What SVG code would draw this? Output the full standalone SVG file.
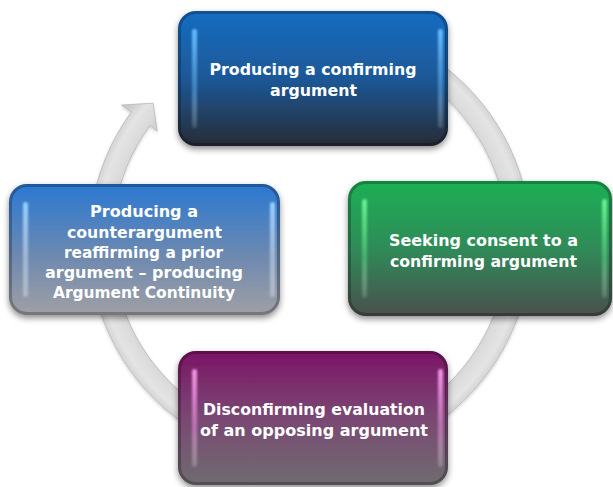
<svg xmlns="http://www.w3.org/2000/svg" width="613" height="487" viewBox="0 0 613 487">
  <defs>
    <style>
      .label { font-family: "DejaVu Sans", "Liberation Sans", sans-serif; font-weight: bold; font-size: 16px; fill: #ffffff; }
      .rim { fill: none; stroke: #000000; stroke-opacity: 0.25; stroke-width: 3; }
      .ring { fill: url(#ring-fill); stroke: #b8b8b8; stroke-width: 0.8; }
    </style>

    <!-- soft shadow under the blocks -->
    <filter id="shadow" x="-10%" y="-10%" width="120%" height="130%">
      <feDropShadow dx="0" dy="3" stdDeviation="3" flood-color="#000" flood-opacity="0.45"/>
    </filter>
    <filter id="ring-shadow" x="-10%" y="-10%" width="120%" height="120%">
      <feDropShadow dx="0" dy="1.5" stdDeviation="1.5" flood-color="#000" flood-opacity="0.18"/>
    </filter>
    <filter id="soft" x="-50%" y="-10%" width="200%" height="120%">
      <feGaussianBlur stdDeviation="0.8"/>
    </filter>

    <!-- ring body shading across its width -->
    <radialGradient id="ring-fill" gradientUnits="userSpaceOnUse" cx="310" cy="242" r="235">
      <stop offset="0.80" stop-color="#c9c9c9"/>
      <stop offset="0.86" stop-color="#dcdcdc"/>
      <stop offset="0.91" stop-color="#e4e4e4"/>
      <stop offset="0.95" stop-color="#cfcfcf"/>
      <stop offset="1" stop-color="#c4c4c4"/>
    </radialGradient>

    <!-- block body gradients -->
    <linearGradient id="g-blue" x1="0" y1="0" x2="0" y2="1">
      <stop offset="0" stop-color="#176dc2"/>
      <stop offset="0.5" stop-color="#1c5897"/>
      <stop offset="1" stop-color="#272b35"/>
    </linearGradient>
    <linearGradient id="g-green" x1="0" y1="0" x2="0" y2="1">
      <stop offset="0" stop-color="#1cb055"/>
      <stop offset="0.5" stop-color="#2f8b58"/>
      <stop offset="1" stop-color="#4a4f4e"/>
    </linearGradient>
    <linearGradient id="g-purple" x1="0" y1="0" x2="0" y2="1">
      <stop offset="0" stop-color="#7b1466"/>
      <stop offset="0.5" stop-color="#7a4873"/>
      <stop offset="1" stop-color="#6e6c6f"/>
    </linearGradient>
    <linearGradient id="g-steel" x1="0" y1="0" x2="0" y2="1">
      <stop offset="0" stop-color="#2a78d2"/>
      <stop offset="0.55" stop-color="#6d89b0"/>
      <stop offset="1" stop-color="#a0a0a4"/>
    </linearGradient>

    <!-- bevel highlight strips -->
    <linearGradient id="h-blue" x1="0" y1="0" x2="0" y2="1">
      <stop offset="0" stop-color="#6cc0ff" stop-opacity="0.95"/>
      <stop offset="0.6" stop-color="#5aa8e8" stop-opacity="0.55"/>
      <stop offset="1" stop-color="#ffffff" stop-opacity="0.15"/>
    </linearGradient>
    <linearGradient id="h-steel" x1="0" y1="0" x2="0" y2="1">
      <stop offset="0" stop-color="#9ad2ff" stop-opacity="0.95"/>
      <stop offset="0.6" stop-color="#c0d4ea" stop-opacity="0.6"/>
      <stop offset="1" stop-color="#ffffff" stop-opacity="0.3"/>
    </linearGradient>
    <linearGradient id="h-green" x1="0" y1="0" x2="0" y2="1">
      <stop offset="0" stop-color="#6ff59a" stop-opacity="0.95"/>
      <stop offset="0.6" stop-color="#55d47f" stop-opacity="0.55"/>
      <stop offset="1" stop-color="#ffffff" stop-opacity="0.15"/>
    </linearGradient>
    <linearGradient id="h-purple" x1="0" y1="0" x2="0" y2="1">
      <stop offset="0" stop-color="#f59ae8" stop-opacity="0.95"/>
      <stop offset="0.6" stop-color="#e08ad4" stop-opacity="0.6"/>
      <stop offset="1" stop-color="#ffffff" stop-opacity="0.2"/>
    </linearGradient>
  </defs>

  <rect width="613" height="487" fill="#ffffff"/>

  <!-- circular arrow running clockwise behind the blocks -->
  <g id="connectors">
    <path id="cycle-arrow" class="ring" filter="url(#ring-shadow)"
          d="M 234.41 34.33 A 221 221 0 1 1 131.21 112.10 L 121.50 105.05 L 153.09 103.18 L 157.10 130.91 L 149.81 125.62 A 198 198 0 1 0 242.28 55.94 Z"/>
  </g>

  <!-- top block -->
  <g id="node-confirming">
    <rect x="178" y="11" width="270" height="135" rx="18" fill="url(#g-blue)" filter="url(#shadow)"/>
    <rect class="rim" x="179.5" y="12.5" width="267" height="132" rx="16.5"/>
    <rect x="192" y="29" width="5" height="99" rx="2.5" fill="url(#h-blue)" filter="url(#soft)"/>
    <rect x="438" y="29" width="5" height="99" rx="2.5" fill="url(#h-blue)" filter="url(#soft)"/>
    <text class="label" x="209.5" y="75" textLength="207" lengthAdjust="spacingAndGlyphs">Producing a confirming</text>
    <text class="label" x="270" y="96" textLength="87" lengthAdjust="spacingAndGlyphs">argument</text>
  </g>

  <!-- right block -->
  <g id="node-consent">
    <rect x="348" y="181" width="264" height="135" rx="18" fill="url(#g-green)" filter="url(#shadow)"/>
    <rect class="rim" x="349.5" y="182.5" width="261" height="132" rx="16.5"/>
    <rect x="362" y="199" width="5" height="99" rx="2.5" fill="url(#h-green)" filter="url(#soft)"/>
    <rect x="602" y="199" width="5" height="99" rx="2.5" fill="url(#h-green)" filter="url(#soft)"/>
    <text class="label" x="389" y="246" textLength="189" lengthAdjust="spacingAndGlyphs">Seeking consent to a</text>
    <text class="label" x="390" y="266.5" textLength="187" lengthAdjust="spacingAndGlyphs">confirming argument</text>
  </g>

  <!-- bottom block -->
  <g id="node-disconfirming">
    <rect x="178" y="351" width="270" height="134" rx="18" fill="url(#g-purple)" filter="url(#shadow)"/>
    <rect class="rim" x="179.5" y="352.5" width="267" height="131" rx="16.5"/>
    <rect x="192" y="369" width="5" height="98" rx="2.5" fill="url(#h-purple)" filter="url(#soft)"/>
    <rect x="438" y="369" width="5" height="98" rx="2.5" fill="url(#h-purple)" filter="url(#soft)"/>
    <text class="label" x="203" y="415" textLength="222" lengthAdjust="spacingAndGlyphs">Disconfirming evaluation</text>
    <text class="label" x="200" y="436" textLength="228" lengthAdjust="spacingAndGlyphs">of an opposing argument</text>
  </g>

  <!-- left block -->
  <g id="node-counterargument">
    <rect x="9" y="184" width="271" height="131" rx="18" fill="url(#g-steel)" filter="url(#shadow)"/>
    <rect class="rim" x="10.5" y="185.5" width="268" height="128" rx="16.5"/>
    <rect x="23" y="202" width="5" height="95" rx="2.5" fill="url(#h-steel)" filter="url(#soft)"/>
    <rect x="270" y="202" width="5" height="95" rx="2.5" fill="url(#h-steel)" filter="url(#soft)"/>
    <text class="label" x="90" y="217" textLength="108" lengthAdjust="spacingAndGlyphs">Producing a</text>
    <text class="label" x="67" y="237.5" textLength="155" lengthAdjust="spacingAndGlyphs">counterargument</text>
    <text class="label" x="64" y="257.5" textLength="159" lengthAdjust="spacingAndGlyphs">reaffirming a prior</text>
    <text class="label" x="45" y="278" textLength="198" lengthAdjust="spacingAndGlyphs">argument – producing</text>
    <text class="label" x="53" y="298" textLength="182" lengthAdjust="spacingAndGlyphs">Argument Continuity</text>
  </g>
</svg>
